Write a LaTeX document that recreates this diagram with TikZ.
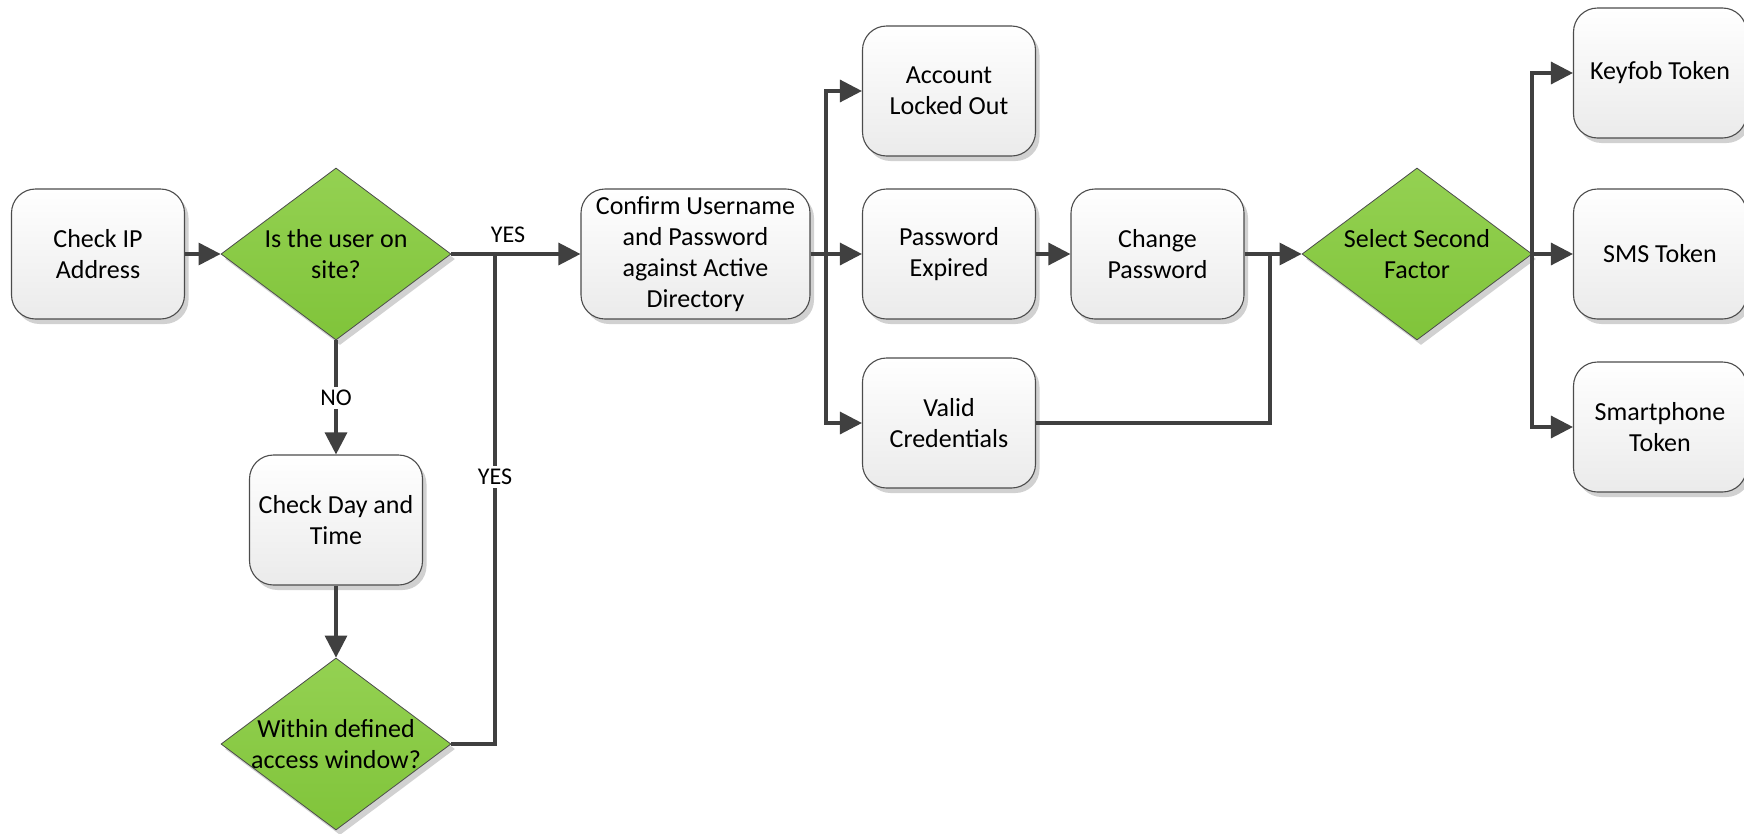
\documentclass[tikz,border=0pt]{standalone}
\usepackage{fontspec}
\setmainfont{Carlito}
\usetikzlibrary{shapes.geometric,arrows.meta,shadows}
\definecolor{linec}{HTML}{404040}
\definecolor{greentop}{HTML}{94D152}
\definecolor{greenbot}{HTML}{80C43A}
\newcommand{\boxfont}{\fontsize{26pt}{31pt}\selectfont}
\newcommand{\lblfont}{\fontsize{24pt}{28pt}\selectfont}
\tikzset{
  stepbox/.style={rectangle, rounded corners=24pt, draw=black!70, line width=1.1pt,
    top color=white, bottom color=black!8, minimum width=173pt, minimum height=130pt,
    align=center, font=\boxfont, inner sep=2pt,
    drop shadow={shadow xshift=4pt, shadow yshift=-5pt, fill=black!30, opacity=0.6}},
  decide/.style={diamond, draw=black!70, line width=0.8pt, top color=greentop, bottom color=greenbot,
    minimum width=230pt, minimum height=172pt, inner sep=0pt,
    drop shadow={shadow xshift=4pt, shadow yshift=-5pt, fill=black!30, opacity=0.6}},
  dtext/.style={font=\boxfont, align=center, inner sep=0pt},
  conn/.style={draw=linec, line width=3.2pt},
  arr/.style={conn, -{Triangle[length=22pt,width=22pt]}},
  lbl/.style={font=\lblfont, text=black, inner sep=3pt},
}
\begin{document}
\begin{tikzpicture}[x=1pt,y=-1pt]
\useasboundingbox (0,0) rectangle (1744,833);
% nodes
\node[stepbox] (ip) at (98,254) {Check IP\\Address};
\node[decide, label={[dtext]center:Is the user on\\site?}] (d1) at (336,254) {};
\node[stepbox] (day) at (336,520) {Check Day and\\Time};
\node[decide, label={[dtext]center:Within defined\\access window?}] (d2) at (336,744) {};
\node[stepbox, minimum width=229pt] (conf) at (695.5,254) {Confirm Username\\and Password\\against Active\\Directory};
\node[stepbox] (lock) at (949,91) {Account\\Locked Out};
\node[stepbox] (pwe) at (949,254) {Password\\Expired};
\node[stepbox] (valid) at (949,423) {Valid\\Credentials};
\node[stepbox] (chg) at (1157.5,254) {Change\\Password};
\node[decide, label={[dtext]center:Select Second\\Factor}] (ssf) at (1417,254) {};
\node[stepbox] (key) at (1660,73) {Keyfob Token};
\node[stepbox] (sms) at (1660,254) {SMS Token};
\node[stepbox] (smart) at (1660,427) {Smartphone\\Token};
% junction coordinates
\coordinate (j1) at (495,254);
\coordinate (j2) at (826,254);
\coordinate (j3) at (1270,254);
\coordinate (j4) at (1532,254);
% connectors
\draw[arr] (ip.east) -- (d1.west);
\draw[arr] (d1.east) -- (conf.west);
\node[lbl] (yes1) at (508,235) {YES};
\draw[arr] (d1.south) -- (day.north);
\node[lbl, fill=white] (no1) at (336,398) {NO};
\draw[arr] (day.south) -- (d2.north);
\draw[conn] (d2.east) -| (j1);
\node[lbl, fill=white] (yes2) at (495,477) {YES};
\draw[arr] (conf.east) -- (pwe.west);
\draw[arr] (j2) |- (lock.west);
\draw[arr] (j2) |- (valid.west);
\draw[arr] (pwe.east) -- (chg.west);
\draw[arr] (chg.east) -- (ssf.west);
\draw[conn] (valid.east) -| (j3);
\draw[arr] (ssf.east) -- (sms.west);
\draw[arr] (j4) |- (key.west);
\draw[arr] (j4) |- (smart.west);
\end{tikzpicture}
\end{document}
